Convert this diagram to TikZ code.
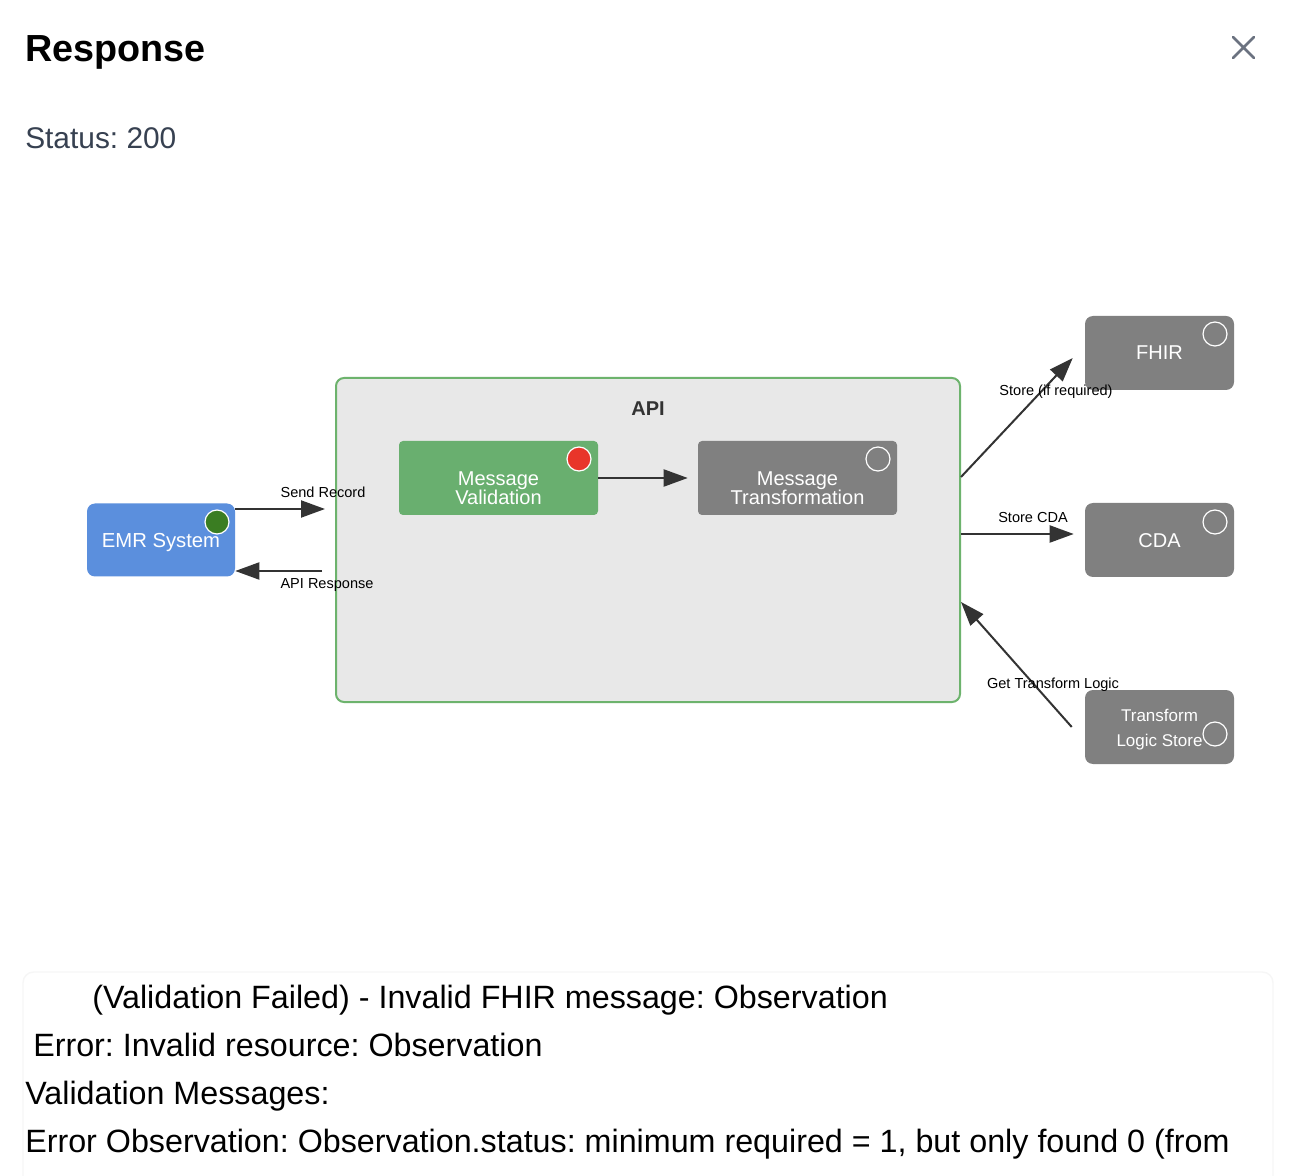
\documentclass[tikz,border=0pt]{standalone}
\usepackage{fontspec}
\setmainfont{Liberation Sans}
\usetikzlibrary{arrows.meta}
\definecolor{apifill}{HTML}{E8E8E8}
\definecolor{apiedge}{HTML}{6DB36D}
\definecolor{valfill}{HTML}{69AF6F}
\definecolor{grayfill}{HTML}{808080}
\definecolor{emrfill}{HTML}{5B8FDD}
\definecolor{reddot}{HTML}{E8352A}
\definecolor{greendot}{HTML}{3A7D22}
\definecolor{arrowcol}{HTML}{333333}
\definecolor{statuscol}{HTML}{374151}
\definecolor{closecol}{HTML}{6B7280}
\definecolor{faintedge}{HTML}{F6F6F6}
\newcommand{\fsz}[2]{\fontsize{#1}{#2}\selectfont}
\frenchspacing
\begin{document}
\begin{tikzpicture}[x=0.75pt,y=-0.75pt,
  smallbox/.style={rectangle, rounded corners=6pt, fill=grayfill, minimum width=111.75pt, minimum height=55.5pt, inner sep=0pt, text=white, align=center, font=\fsz{15pt}{18.75pt}},
  msgbox/.style={rectangle, rounded corners=3pt, minimum width=149.25pt, minimum height=55.5pt, inner sep=0pt},
  boxtext/.style={text=white, align=center, inner sep=0pt, font=\fsz{15pt}{14.25pt}},
  dot/.style={circle, draw=white, line width=0.9pt, minimum size=18pt, inner sep=0pt},
  conn/.style={draw=arrowcol, line width=1.5pt, -{Triangle[length=18pt,width=12.75pt]}},
  lbl/.style={inner sep=0pt, font=\fsz{10.9pt}{13pt}, text=black},
  msg/.style={anchor=base west, inner sep=0pt, font=\fsz{24.2pt}{28pt}}
]
\useasboundingbox (0,0) rectangle (1300,1176);
\fill[white] (0,0) rectangle (1300,1176);

% header
\node[anchor=base west, inner sep=0pt, font=\bfseries\fsz{28.3pt}{33pt}] (title) at (25,62) {Response};
\coordinate (xa) at (1233,37);
\coordinate (xb) at (1254,58);
\coordinate (xc) at (1254,37);
\coordinate (xd) at (1233,58);
\draw[closecol, line width=1.9pt, line cap=round] (xa) -- (xb) (xc) -- (xd);
\node[anchor=base west, inner sep=0pt, text=statuscol, font=\fsz{22.4pt}{26pt}] (status) at (25,149) {Status: 200};

% API container
\node[rectangle, rounded corners=6pt, fill=apifill, draw=apiedge, line width=1.5pt, minimum width=468pt, minimum height=243pt, inner sep=0pt] (api) at (648,540) {};
\node[inner sep=0pt, text=arrowcol, font=\bfseries\fsz{15pt}{18pt}] (apilbl) at (648,409) {API};

% inner boxes
\node[msgbox, fill=valfill] (val) at (498.5,478) {};
\node[boxtext] (valtxt) at (498.5,488) {Message\\Validation};
\node[dot, fill=reddot] (valdot) at (579,459) {};
\node[msgbox, fill=grayfill] (trans) at (797.5,478) {};
\node[boxtext] (transtxt) at (797.5,488) {Message\\Transformation};
\node[dot] (transdot) at (878,459) {};

% EMR
\node[rectangle, rounded corners=6pt, fill=emrfill, minimum width=111pt, minimum height=54.75pt, inner sep=0pt, text=white, font=\fsz{15.2pt}{18pt}, text height=11pt, text depth=0pt] (emr) at (161,540) {EMR System};
\node[dot, fill=greendot] (emrdot) at (217,522) {};

% right boxes
\node[smallbox] (fhir) at (1159.5,353) {FHIR};
\node[dot] (fhirdot) at (1215,334) {};
\node[smallbox, text height=11pt, text depth=0pt] (cda) at (1159.5,540) {CDA};
\node[dot] (cdadot) at (1215,522) {};
\node[smallbox] (tls) at (1159.5,727) {};
\node[text=white, align=center, inner sep=0pt, font=\fsz{12.75pt}{18.75pt}] (tlstxt) at (1159.5,730) {Transform\\Logic Store};
\node[dot] (tlsdot) at (1215,734) {};

% connectors
\draw[conn, shorten >=7.5pt] (val.east) -- (trans.west);
\draw[conn] ([yshift=23.25pt]emr.east) -- ([xshift=-7.5pt,yshift=23.25pt]api.west);
\draw[conn] ([xshift=-9.75pt,yshift=-23.25pt]api.west) -- ([yshift=-23.25pt]emr.east);
\draw[conn] ([yshift=47.25pt]api.east) -- ([xshift=-9pt,yshift=-3.75pt]fhir.west);
\draw[conn] ([yshift=4.5pt]api.east) -- ([xshift=-8.25pt,yshift=4.5pt]cda.west);
\draw[conn] ([xshift=-9.75pt]tls.west) -- ([yshift=-46.5pt]api.east);

% connector labels
\node[lbl] (l1) at (323,492) {Send Record};
\node[lbl] (l2) at (327,585) {API Response};
\node[lbl] (l3) at (1056,392) {Store (if required)};
\node[lbl] (l4) at (1033,517) {Store CDA};
\node[lbl] (l5) at (1053,685) {Get Transform Logic};

% bottom message panel
\draw[faintedge, line width=1pt, rounded corners=8pt] (23,1190) -- (23,972) -- (1273,972) -- (1273,1190);
\node[msg] (m1) at (92,1008) {(Validation Failed) - Invalid FHIR message: Observation};
\node[msg] (m2) at (33,1056) {Error: Invalid resource: Observation};
\node[msg] (m3) at (25,1104) {Validation Messages:};
\node[msg] (m4) at (25,1152) {Error Observation: Observation.status: minimum required = 1, but only found 0 (from};
\end{tikzpicture}
\end{document}
